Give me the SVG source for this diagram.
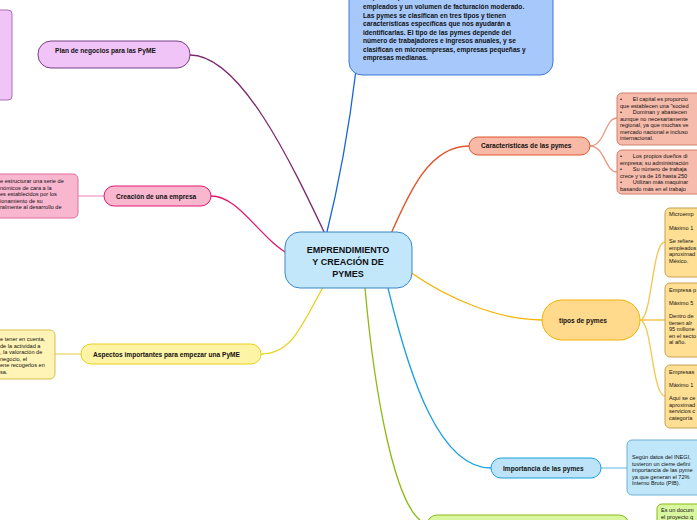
<svg xmlns="http://www.w3.org/2000/svg" width="697" height="520" viewBox="0 0 697 520">
<style>
text{font-family:"Liberation Sans",Arial,sans-serif;fill:#111}
.b{font-weight:bold;font-size:6.6px}
.s{font-size:5.6px;white-space:pre}
.c{fill:none;stroke-width:1.3}
</style>
<rect width="697" height="520" fill="#fff"/>
<g id="connectors">
<path class="c" stroke="#1565d8" d="M326,236 C340,180 350,120 356,70"/>
<path class="c" stroke="#7b2a6e" d="M326,236 C290,160 240,55 190,55"/>
<path class="c" stroke="#e0186c" d="M292,256 C260,240 240,196 211,196"/>
<path class="c" stroke="#e8d21b" d="M323,287 C300,330 290,354 261,354"/>
<path class="c" stroke="#e0552b" d="M390,236 C410,190 430,146 469,146"/>
<path class="c" stroke="#f5b300" d="M410,272 C450,300 500,320 542,320"/>
<path class="c" stroke="#17a0e0" d="M388,288 C410,380 440,468 491,468"/>
<path class="c" stroke="#8bbb12" d="M365,288 C375,400 395,500 420,520"/>
<path class="c" stroke="#e89a80" d="M590,146 C605,146 605,118 617,118 M590,146 C605,146 605,172 617,172"/>
<path class="c" stroke="#f5c550" d="M640,320 C652,320 652,242 665,242 M640,320 C652,320 652,320 665,320 M640,320 C652,320 652,396 665,396"/>
<path class="c" stroke="#7fc6ea" d="M601,468 L627,468"/>
<path class="c" stroke="#f0a0c4" d="M78,196 L104,196"/>
<path class="c" stroke="#e8d870" d="M55,354 L81,354"/>
</g>
<g id="desc">
<rect x="349" y="-20" width="204" height="95" rx="13" fill="#a6c8fb" stroke="#3c78d8"/>
<text class="b"><tspan x="363" y="-1">empresas que tienen un número reducido de</tspan><tspan x="363" y="9">empleados y un volumen de facturación moderado.</tspan><tspan x="363" y="17.5">Las pymes se clasifican en tres tipos y tienen</tspan><tspan x="363" y="26">características específicas que nos ayudarán a</tspan><tspan x="363" y="34.5">identificarlas. El tipo de las pymes depende del</tspan><tspan x="363" y="43">número de trabajadores e ingresos anuales, y se</tspan><tspan x="363" y="51.5">clasifican en microempresas, empresas pequeñas y</tspan><tspan x="363" y="60">empresas medianas.</tspan></text>
</g>
<g id="center">
<rect x="285" y="232" width="127" height="56" rx="15" fill="#c2e7fb" stroke="#3d85c6"/>
<text class="b" style="font-size:9px" text-anchor="middle"><tspan x="348" y="253">EMPRENDIMIENTO</tspan><tspan x="348" y="265">Y CREACIÓN DE</tspan><tspan x="348" y="277">PYMES</tspan></text>
</g>
<g id="plan">
<rect x="38" y="41" width="152" height="27" rx="13" fill="#f0c4f7" stroke="#7b3f86"/>
<text class="b" x="55" y="53">Plan de negocios para las PyME</text>
<rect x="-6" y="10" width="18" height="90" rx="4" fill="#f0c4f7" stroke="#b070bb"/>
</g>
<g id="creacion">
<rect x="104" y="186" width="107" height="20" rx="10" fill="#f9b6cf" stroke="#e01a71"/>
<text class="b" x="116" y="198.5">Creación de una empresa</text>
<rect x="-6" y="174" width="84" height="44" rx="5" fill="#f9b6cf" stroke="#e070a0"/>
<text class="s"><tspan x="0" y="183">e estructurar una serie de</tspan><tspan x="0" y="189.5">nómicos de cara a la</tspan><tspan x="0" y="196">es establecidos por los</tspan><tspan x="0" y="202.5">ionamiento de su</tspan><tspan x="0" y="209">ralmente al desarrollo de</tspan></text>
</g>
<g id="aspectos">
<rect x="81" y="344" width="180" height="20" rx="10" fill="#fff3a6" stroke="#e8d21b"/>
<text class="b" x="93" y="356.5">Aspectos importantes para empezar una PyME</text>
<rect x="-6" y="330" width="61" height="49" rx="5" fill="#fff4b5" stroke="#d8c050"/>
<text class="s"><tspan x="0" y="341">e tener en cuenta,</tspan><tspan x="0" y="347.5">de la actividad a</tspan><tspan x="0" y="354">, la valoración de</tspan><tspan x="0" y="360.5">negocio, el</tspan><tspan x="0" y="367">ene recogerlos en</tspan><tspan x="0" y="373.5">sa.</tspan></text>
</g>
<g id="caracteristicas">
<rect x="469" y="137" width="121" height="18" rx="9" fill="#f8b9a6" stroke="#e0552b"/>
<text class="b" x="481" y="148">Características de las  pymes</text>
<rect x="617" y="93" width="86" height="52" rx="5" fill="#f6bbaa" stroke="#d0806a"/>
<text class="s"><tspan x="620" y="101">•       El capital es proporcio</tspan><tspan x="620" y="107.5">que establecen una "socied</tspan><tspan x="620" y="114">•       Dominan y abastecen</tspan><tspan x="620" y="120.5">aunque no necesariamente</tspan><tspan x="620" y="127">regional, ya que muchas ve</tspan><tspan x="620" y="133.5">mercado nacional e incluso</tspan><tspan x="620" y="140">internacional.</tspan></text>
<rect x="617" y="150" width="86" height="44" rx="5" fill="#f6bbaa" stroke="#d0806a"/>
<text class="s"><tspan x="620" y="158">•       Los propios dueños di</tspan><tspan x="620" y="164.5">empresa; su administración</tspan><tspan x="620" y="171">•       Su número de trabaja</tspan><tspan x="620" y="177.5">crece y va de 16 hasta 250</tspan><tspan x="620" y="184">•       Utilizan más maquinar</tspan><tspan x="620" y="190.5">basando más en el trabajo</tspan></text>
</g>
<g id="tipos">
<rect x="542" y="300" width="98" height="40" rx="20" fill="#ffd98c" stroke="#f5b300"/>
<text class="b" x="559" y="323">tipos de pymes</text>
<rect x="665" y="208" width="40" height="69" rx="5" fill="#ffdf94" stroke="#c8a050"/>
<text class="s"><tspan x="669" y="216">Microemp</tspan><tspan x="669" y="230">Máximo 1</tspan><tspan x="669" y="243">Se refiere</tspan><tspan x="669" y="249.5">empleados</tspan><tspan x="669" y="256">aproximad</tspan><tspan x="669" y="262.5">México.</tspan></text>
<rect x="665" y="283" width="40" height="74" rx="5" fill="#ffdf94" stroke="#c8a050"/>
<text class="s"><tspan x="669" y="292">Empresa p</tspan><tspan x="669" y="305">Máximo 5</tspan><tspan x="669" y="318">Dentro de</tspan><tspan x="669" y="324.5">tienen alr</tspan><tspan x="669" y="331">95 millone</tspan><tspan x="669" y="337.5">en el secto</tspan><tspan x="669" y="344">al año.</tspan></text>
<rect x="665" y="365" width="40" height="63" rx="5" fill="#ffdf94" stroke="#c8a050"/>
<text class="s"><tspan x="669" y="374">Empresas</tspan><tspan x="669" y="387">Máximo 1</tspan><tspan x="669" y="400">Aquí se ce</tspan><tspan x="669" y="406.5">aproximad</tspan><tspan x="669" y="413">servicios c</tspan><tspan x="669" y="419.5">categoría</tspan></text>
</g>
<g id="importancia">
<rect x="491" y="458" width="110" height="20" rx="10" fill="#bde3f8" stroke="#17a0e0"/>
<text class="b" x="503" y="470.5">Importancia de las pymes</text>
<rect x="627" y="440" width="76" height="55" rx="5" fill="#bfe6f9" stroke="#70b0d8"/>
<text class="s"><tspan x="632" y="459">Según datos del INEGI,</tspan><tspan x="632" y="465.5">tuvieron un cierre defini</tspan><tspan x="632" y="472">importancia de las pyme</tspan><tspan x="632" y="478.5">ya que generan el 72%</tspan><tspan x="632" y="485">Interno Bruto (PIB).</tspan></text>
</g>
<g id="proyecto">
<rect x="427" y="515" width="202" height="20" rx="10" fill="#d9f7a0" stroke="#8bbb12"/>
<rect x="657" y="504" width="46" height="30" rx="5" fill="#d9f7a0" stroke="#8bbb12"/>
<text class="s"><tspan x="661" y="512">Es un docum</tspan><tspan x="661" y="518.5">el proyecto q</tspan></text>
</g>
</svg>
